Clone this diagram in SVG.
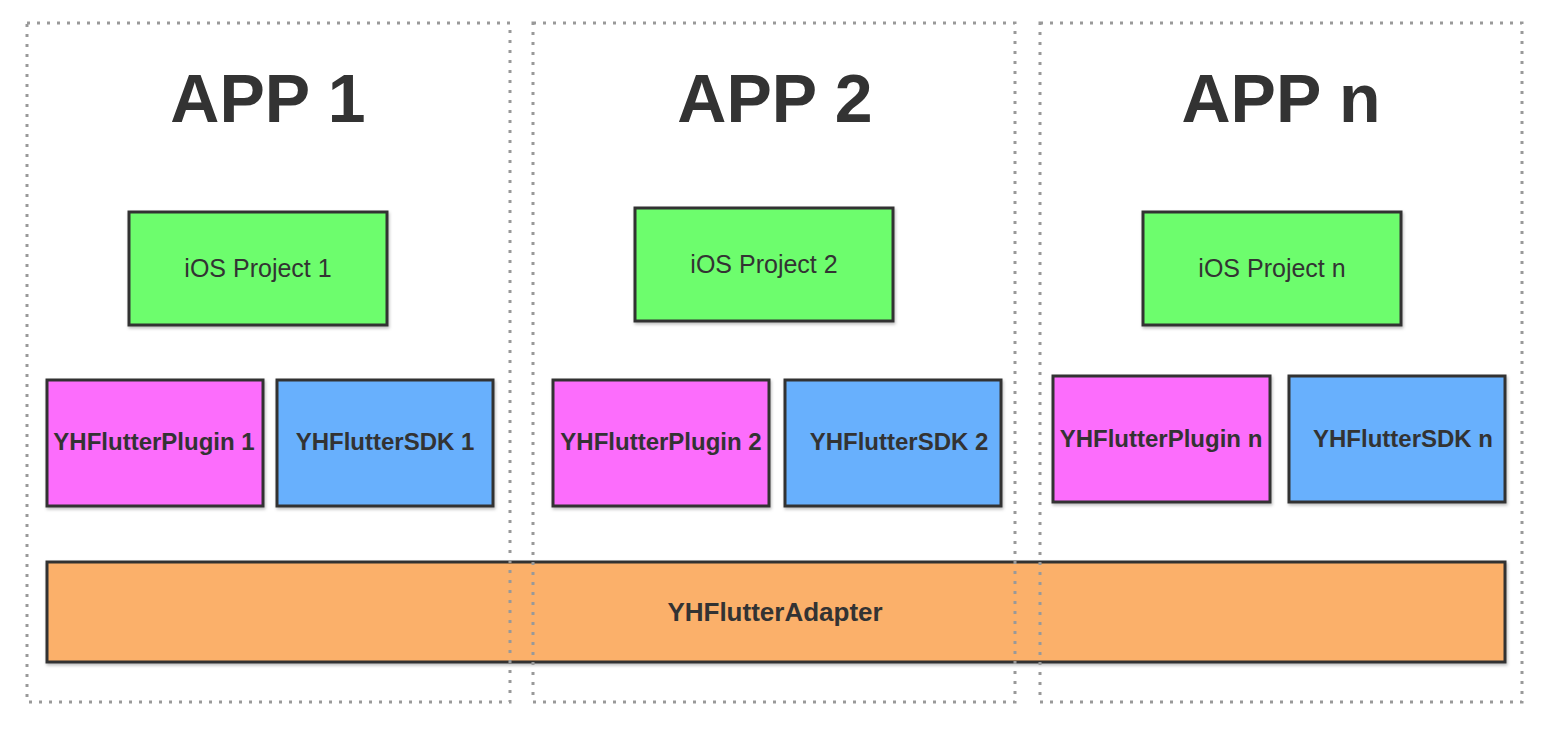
<svg xmlns="http://www.w3.org/2000/svg" width="1548" height="732" viewBox="0 0 1548 732">
<defs>
<filter id="sh" x="-5%" y="-5%" width="110%" height="115%">
<feDropShadow dx="1" dy="2" stdDeviation="1.5" flood-color="#000" flood-opacity="0.25"/>
</filter>
</defs>
<style>
.box{stroke:#333;stroke-width:3;filter:url(#sh)}
.ios{fill:#6dfd6d}
.plug{fill:#fc6dfc}
.sdk{fill:#68b0fd}
.adp{fill:#fbb06b}
.frame{fill:none;stroke:#999;stroke-width:3;stroke-dasharray:3 7}
.title{font-family:"Liberation Sans",Arial,sans-serif;font-weight:bold;font-size:68px;fill:#333;text-anchor:middle}
.reg{font-family:"Liberation Sans",Arial,sans-serif;font-size:25px;fill:#333;text-anchor:middle;dominant-baseline:central}
.bold{font-family:"Liberation Sans",Arial,sans-serif;font-weight:bold;font-size:24px;fill:#333;text-anchor:middle;dominant-baseline:central}
</style>
<rect width="1548" height="732" fill="#fff"/>
<g id="adapter">
<rect class="box adp" x="47" y="562" width="1458" height="100"/>
<text class="bold" x="775" y="612" style="font-size:26px">YHFlutterAdapter</text>
</g>
<g id="app1">
<text class="title" x="268" y="122">APP 1</text>
</g>
<g id="ios1"><rect class="box ios" x="129" y="212" width="258" height="113"/><text class="reg" x="258" y="268">iOS Project 1</text></g>
<g id="plugin1"><rect class="box plug" x="47" y="380" width="216" height="126"/><text class="bold" x="154" y="441">YHFlutterPlugin 1</text></g>
<g id="sdk1"><rect class="box sdk" x="277" y="380" width="216" height="126"/><text class="bold" x="385" y="441">YHFlutterSDK 1</text></g>
<g id="app2">
<text class="title" x="775" y="122">APP 2</text>
</g>
<g id="ios2"><rect class="box ios" x="635" y="208" width="258" height="113"/><text class="reg" x="764" y="264">iOS Project 2</text></g>
<g id="plugin2"><rect class="box plug" x="553" y="380" width="216" height="126"/><text class="bold" x="661" y="441">YHFlutterPlugin 2</text></g>
<g id="sdk2"><rect class="box sdk" x="785" y="380" width="216" height="126"/><text class="bold" x="899" y="441">YHFlutterSDK 2</text></g>
<g id="appn">
<text class="title" x="1281" y="122">APP n</text>
</g>
<g id="iosn"><rect class="box ios" x="1143" y="212" width="258" height="113"/><text class="reg" x="1272" y="268">iOS Project n</text></g>
<g id="pluginn"><rect class="box plug" x="1053" y="376" width="217" height="126"/><text class="bold" x="1161" y="438">YHFlutterPlugin n</text></g>
<g id="sdkn"><rect class="box sdk" x="1289" y="376" width="216" height="126"/><text class="bold" x="1403" y="438">YHFlutterSDK n</text></g>
<g id="frames">
<rect class="frame" x="27" y="23" width="483" height="679"/>
<rect class="frame" x="533" y="23" width="482" height="679"/>
<rect class="frame" x="1040" y="23" width="482" height="679"/>
</g>
<g id="connectors"></g>
</svg>
